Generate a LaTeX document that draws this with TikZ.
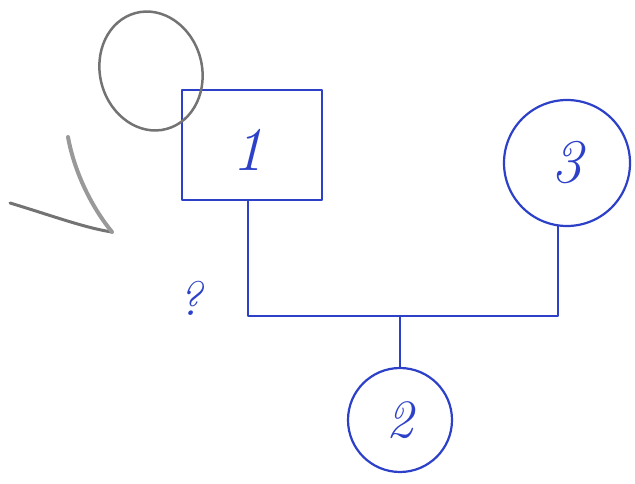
\documentclass[tikz,border=0pt]{standalone}
\usepackage{fontspec}
\begin{document}
\begin{tikzpicture}[x=1pt,y=-1pt,
  ink/.style={draw=penblue,line width=2.2pt,line cap=round,line join=round},
  lbl/.style={text=penblue,font=\fontsize{62}{62}\selectfont\itshape},
  pencil/.style={draw=black!55,line width=3pt,line cap=round}]
\definecolor{penblue}{RGB}{45,65,200}
\useasboundingbox (0,0) rectangle (635,484);
\node[ink,rectangle,minimum width=140pt,minimum height=110pt] (b1) at (252,145) {};
\node[lbl] (t1) at (248,150) {1};
\node[ink,circle,minimum size=126pt] (c3) at (567,163) {};
\node[lbl] (t3) at (567,163) {3};
\node[ink,circle,minimum size=104pt] (c2) at (400,420) {};
\node[lbl,font=\fontsize{54}{54}\selectfont\itshape] (t2) at (400,420) {2};
\coordinate (j) at (400,316);
\coordinate (b1s) at (248,200);
\draw[ink] (b1s) -- (b1s |- j) -- (c3.262 |- j) -- (c3.262);
\draw[ink] (j) -- (c2.north);
\node[text=penblue,font=\fontsize{48}{48}\selectfont\itshape] (q) at (190,298) {?};
\draw[pencil,line width=2.5pt,rotate around={15:(151,71)}] (151,71) ellipse (51pt and 60pt);
\draw[pencil] (10,203) .. controls (50,215) and (85,228) .. (112,232);
\draw[pencil,draw=black!40,line width=4pt] (68,137) .. controls (74,170) and (90,205) .. (112,232);
\end{tikzpicture}
\end{document}
